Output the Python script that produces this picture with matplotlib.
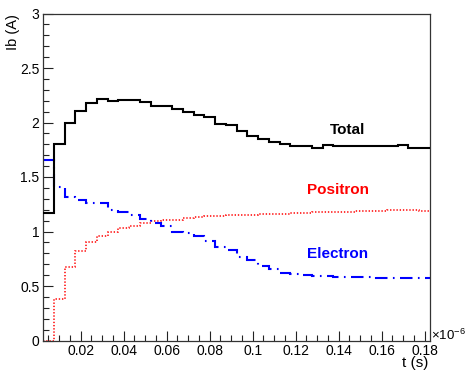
import numpy as np
import matplotlib
matplotlib.use("Agg")
import matplotlib.pyplot as plt
from matplotlib.ticker import MultipleLocator, FuncFormatter

plt.rcParams['font.family'] = ['Liberation Sans', 'DejaVu Sans']
plt.rcParams['mathtext.fontset'] = 'custom'
plt.rcParams['mathtext.rm'] = 'Liberation Sans'
plt.rcParams['mathtext.it'] = 'Liberation Sans:italic'
plt.rcParams['mathtext.bf'] = 'Liberation Sans:bold'

# bin edges (units of 1e-6 s)
bin_edges = np.round(np.arange(0.0025, 0.1826, 0.005), 4)

total = [1.17, 1.80, 2.00, 2.11, 2.18, 2.22, 2.20, 2.21, 2.21, 2.19, 2.15, 2.15,
         2.12, 2.10, 2.07, 2.05, 1.99, 1.98, 1.92, 1.88, 1.85, 1.82, 1.80, 1.78,
         1.78, 1.77, 1.79, 1.78, 1.78, 1.78, 1.78, 1.78, 1.78, 1.79, 1.77, 1.77]

positron = [-0.49, 0.38, 0.67, 0.82, 0.905, 0.96, 1.00, 1.03, 1.05, 1.08, 1.10, 1.105,
            1.11, 1.12, 1.13, 1.14, 1.14, 1.147, 1.15, 1.155, 1.16, 1.16, 1.165, 1.17,
            1.17, 1.175, 1.18, 1.18, 1.18, 1.185, 1.19, 1.19, 1.195, 1.195, 1.195, 1.19]

electron = [1.66, 1.41, 1.32, 1.29, 1.26, 1.26, 1.20, 1.175, 1.155, 1.115, 1.075, 1.05,
            1.00, 0.99, 0.955, 0.915, 0.855, 0.83, 0.77, 0.74, 0.68, 0.66, 0.62, 0.61,
            0.60, 0.59, 0.59, 0.585, 0.58, 0.58, 0.58, 0.575, 0.575, 0.57, 0.57, 0.57]

labels = ["Total", "Positron", "Electron"]
label_x = [0.1358, 0.1253, 0.1253]
label_y = [1.93, 1.38, 0.79]
colors = ["#000000", "#ff0000", "#0000ff"]

W, H = 466, 372
fig = plt.figure(figsize=(W / 100, H / 100), dpi=100)
ax = fig.add_axes([43 / W, 1 - 340.5 / H, (430 - 43) / W, (340.5 - 13.5) / H])

ymin, ymax = 0.0, 3.0
ax.stairs(total, bin_edges, baseline=None, color=colors[0], lw=1.5, zorder=3)
ax.stairs(np.clip(positron, ymin, None), bin_edges, baseline=None, color=colors[1],
          lw=1.1, linestyle=(0, (0.9, 1.2)), zorder=2)
ax.stairs(electron, bin_edges, baseline=None, color=colors[2], lw=1.5,
          linestyle=(0, (6.0, 2.6, 0.8, 2.6)), zorder=2)

for s, x, y, c in zip(labels, label_x, label_y, colors):
    ax.text(x, y, s, color=c, fontsize=11, fontweight='bold', ha='left', va='center')

ax.set_xlim(bin_edges[0], bin_edges[-1])
ax.set_ylim(ymin, ymax)

fmt = FuncFormatter(lambda v, p: "%g" % round(v, 6))
ax.xaxis.set_major_locator(MultipleLocator(0.02))
ax.xaxis.set_minor_locator(MultipleLocator(0.005))
ax.yaxis.set_major_locator(MultipleLocator(0.5))
ax.yaxis.set_minor_locator(MultipleLocator(0.1))
ax.xaxis.set_major_formatter(fmt)
ax.yaxis.set_major_formatter(fmt)

ax.tick_params(which='both', direction='in', top=False, right=False, width=0.8,
               labelsize=10, color='#222222')
ax.tick_params(which='major', length=7.5)
ax.tick_params(which='minor', length=4.2)
ax.tick_params(axis='x', pad=2.2)
ax.tick_params(axis='y', pad=2.5)
for sp in ax.spines.values():
    sp.set_linewidth(0.9)
    sp.set_color('#333333')

fig.text(428 / W, 1 - 370 / H, "t (s)", fontsize=11, ha='right', va='bottom')
fig.text(13 / W, 1 - 14 / H, "Ib (A)", fontsize=10.5, rotation=90, ha='center', va='top')
fig.text(431 / W, 1 - 340 / H, r"$\times10^{-6}$", fontsize=9.5, ha='left', va='baseline')

fig.savefig("out.png", dpi=100)
